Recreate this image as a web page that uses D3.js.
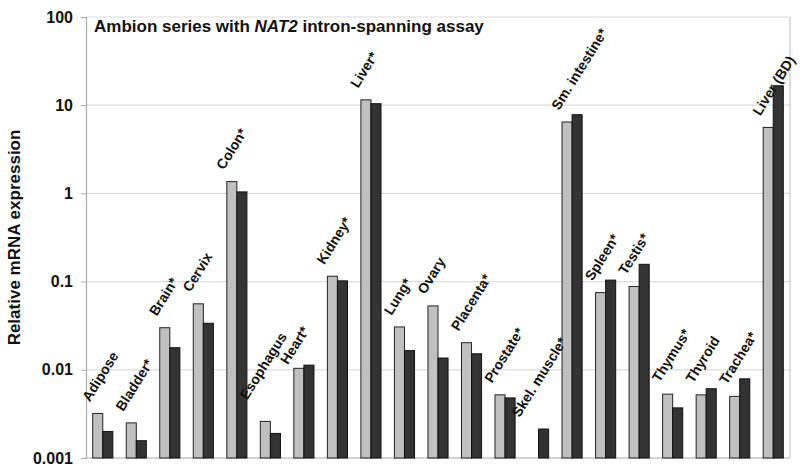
<!DOCTYPE html>
<html>
<head>
<meta charset="utf-8">
<script src="https://cdn.jsdelivr.net/npm/d3@7"></script>
<style>
  body { margin: 0; background: #fff; }
  text { font-family: "Liberation Sans", Arial, sans-serif; font-weight: bold; fill: #111; }
</style>
</head>
<body>
<div id="chart"></div>
<script>
// tissues on the x axis (label text as printed)
const tissues = ["Adipose", "Bladder*", "Brain*", "Cervix", "Colon*", "Esophagus", "Heart*",
	"Kidney*", "Liver*", "Lung*", "Ovary", "Placenta*", "Prostate*", "Skel. muscle*",
	"Sm. intestine*", "Spleen*", "Testis*", "Thymus*", "Thyroid", "Trachea*", "Liver (BD)"];

// light grey bars (first of each pair), null = no bar
const lightValues = [0.0032, 0.0025, 0.030, 0.056, 1.36, 0.0026, 0.0104,
	0.115, 11.5, 0.0306, 0.053, 0.0203, 0.0052, null,
	6.45, 0.075, 0.088, 0.0053, 0.0052, 0.0050, 5.6];

// dark bars (second of each pair)
const darkValues = [0.0020, 0.00157, 0.0178, 0.0337, 1.04, 0.0019, 0.0113,
	0.102, 10.4, 0.0165, 0.0136, 0.0152, 0.0048, 0.00213,
	7.8, 0.104, 0.157, 0.0037, 0.0061, 0.0079, 16.6];

const tickValues = [0.001, 0.01, 0.1, 1, 10, 100];
const tickLabels = ["0.001", "0.01", "0.1", "1", "10", "100"];

const W = 800, H = 473;
const margin = { top: 17, right: 10, bottom: 15, left: 86 };
const plotW = W - margin.left - margin.right,
	plotH = H - margin.top - margin.bottom;

const svg = d3.select("#chart").append("svg")
	.attr("width", W)
	.attr("height", H);

const g = svg.append("g")
	.attr("transform", "translate(" + margin.left + "," + margin.top + ")");

const y = d3.scaleLog().domain([0.001, 100]).range([plotH, 0]);

const x = d3.scaleBand().domain(tissues).range([0, plotW])
	.paddingInner(0.4).paddingOuter(0.2);

const xs = d3.scaleBand().domain(["light", "dark"]).range([0, x.bandwidth()]);

// gridlines
g.append("g")
	.selectAll("line")
	.data(tickValues.slice(1))
	.enter().append("line")
	.attr("x1", 0).attr("x2", plotW)
	.attr("y1", d => y(d)).attr("y2", d => y(d))
	.style("stroke", "#dcdcdc")
	.style("stroke-width", 1.2);

// right border
g.append("line")
	.attr("x1", plotW).attr("x2", plotW)
	.attr("y1", 0).attr("y2", plotH)
	.style("stroke", "#bbb");

// bottom axis line
g.append("line")
	.attr("x1", 0).attr("x2", plotW)
	.attr("y1", plotH).attr("y2", plotH)
	.style("stroke", "#aaa")
	.style("stroke-width", 1.2);

// y axis
const yAxis = g.append("g")
	.call(d3.axisLeft(y)
		.tickValues(tickValues)
		.tickFormat((d, i) => tickLabels[i])
		.tickSize(5)
		.tickPadding(8));
yAxis.select(".domain").style("stroke", "#aaa").style("stroke-width", 1.2);
yAxis.selectAll(".tick line").style("stroke", "#aaa");
yAxis.selectAll(".tick text")
	.style("font-size", "16px")
	.style("font-family", "'Liberation Sans', Arial, sans-serif")
	.style("font-weight", "bold")
	.style("fill", "#111");

// bars
const rows = tissues.map((t, i) => ({ name: t, light: lightValues[i], dark: darkValues[i] }));

const groups = g.selectAll(".tissue")
	.data(rows)
	.enter().append("g")
	.attr("class", "tissue")
	.attr("transform", d => "translate(" + x(d.name) + ",0)");

groups.filter(d => d.light != null).append("rect")
	.attr("x", xs("light"))
	.attr("width", xs.bandwidth())
	.attr("y", d => y(d.light))
	.attr("height", d => plotH - y(d.light))
	.style("fill", "#c0c0c0")
	.style("stroke", "#222")
	.style("stroke-width", 1);

groups.append("rect")
	.attr("x", xs("dark"))
	.attr("width", xs.bandwidth())
	.attr("y", d => y(d.dark))
	.attr("height", d => plotH - y(d.dark))
	.style("fill", "#333")
	.style("stroke", "#111")
	.style("stroke-width", 1);

// rotated tissue labels above the light bar, drawn on top of all bars
// a few labels were nudged by hand in the original
const labelNudge = {
	"Esophagus": [-10, -10],
	"Heart*": [-3, 8],
	"Skel. muscle*": [-6, 0]
};
g.append("g").selectAll("text")
	.data(rows)
	.enter().append("text")
	.attr("transform", d => {
		const top = y(d.light != null ? d.light : d.dark);
		const nudge = labelNudge[d.name] || [0, 0];
		return "translate(" + (x(d.name) - 3 + nudge[0]) + "," + (top - 11 + nudge[1]) + ") rotate(-58)";
	})
	.style("font-size", "14px")
	.text(d => d.name);

// title
const title = g.append("text")
	.attr("x", 8)
	.attr("y", 15)
	.style("font-size", "17px");
title.append("tspan").text("Ambion series with ");
title.append("tspan").style("font-style", "italic").text("NAT2");
title.append("tspan").text(" intron-spanning assay");

// y axis title
svg.append("text")
	.attr("transform", "translate(20," + (margin.top + plotH / 2) + ") rotate(-90)")
	.attr("text-anchor", "middle")
	.style("font-size", "17px")
	.text("Relative mRNA expression");
</script>
</body>
</html>
